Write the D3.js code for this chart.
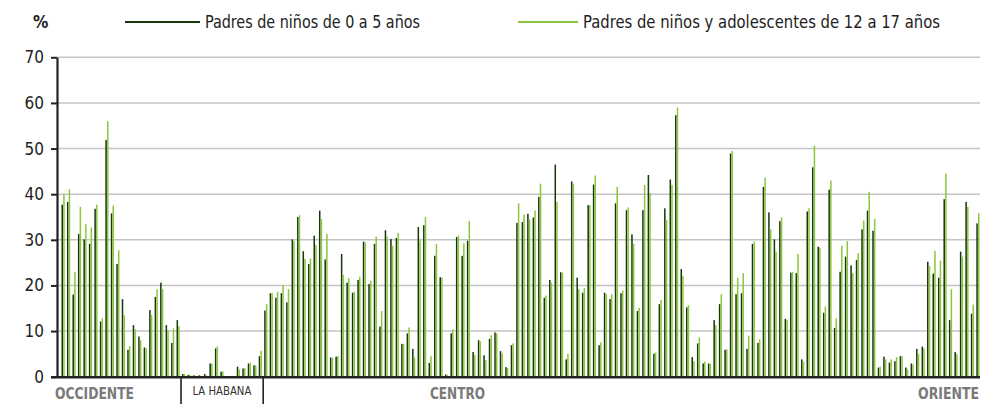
<!DOCTYPE html>
<html>
<head>
<meta charset="utf-8">
<script src="https://cdn.jsdelivr.net/npm/d3@7"></script>
<style>
  body { margin: 0; background: #fff; }
  svg { display: block; }
  text { font-family: "Liberation Sans Narrow", "DejaVu Sans Condensed", sans-serif; }
</style>
</head>
<body>
<div id="canvas"></div>
<script>
// series names
var seriesNames = ["Padres de niños de 0 a 5 años", "Padres de niños y adolescentes de 12 a 17 años"];

// regions along the x axis and how many municipios each has
var regionNames = ["OCCIDENTE", "LA HABANA", "CENTRO", "ORIENTE"];
var regionSizes = [22, 15, 71, 60];

// % values, one per municipio
var padres0a5 = [
  37.7, 38.3, 18.0, 31.3, 30.1, 29.1, 36.8, 12.1, 51.9, 35.8,
  24.7, 17.0, 5.9, 11.3, 8.8, 6.4, 14.6, 17.5, 20.6, 11.3,
  7.4, 12.4,
  0.6, 0.4, 0.3, 0.3, 0.6, 2.9, 6.2, 1.1, 0, 0, 2.2, 1.8, 2.9, 2.5, 4.5,
  14.5, 18.3, 17.3, 18.3, 16.3, 30.1, 35.0, 27.5, 24.7, 30.9,
  36.4, 25.7, 4.2, 4.4, 26.9, 20.6, 18.4, 21.2, 29.6, 20.3,
  29.1, 11.0, 32.1, 30.2, 30.4, 7.2, 9.5, 6.1, 32.8, 33.2,
  3.0, 26.5, 21.8, 0.5, 9.5, 30.6, 26.5, 29.8, 5.4, 8.0,
  4.7, 8.3, 9.7, 5.6, 2.1, 6.9, 33.7, 33.9, 35.7, 34.9,
  39.4, 17.3, 21.2, 46.5, 22.9, 3.8, 42.8, 21.7, 18.4, 37.6,
  42.1, 6.9, 18.4, 17.0, 38.0, 18.3, 36.5, 31.2, 14.4, 36.5,
  44.2, 5.0, 15.9, 36.9, 43.2, 57.3, 23.6, 15.2, 4.3, 7.3,
  2.9, 2.9, 12.4, 15.9, 5.9, 48.9, 18.1, 18.3, 6.1, 29.1,
  7.4, 41.6, 36.0, 30.1, 34.1, 12.7, 22.8, 22.7, 3.8, 36.2,
  45.9, 28.5, 14.0, 41.0, 10.7, 23.0, 26.3, 24.4, 25.6, 32.3,
  36.4, 32.0, 2.0, 4.4, 3.1, 3.4, 4.5, 2.0, 2.9, 6.1,
  6.6, 25.2, 22.6, 21.7, 38.9, 12.4, 5.4, 27.4, 38.3, 13.8,
  33.6
];
var padres12a17 = [
  40.0, 41.1, 23.0, 37.2, 33.4, 32.7, 37.7, 12.8, 56.0, 37.5,
  27.7, 13.5, 6.7, 10.4, 8.0, 6.2, 13.5, 19.2, 19.2, 10.2,
  10.6, 11.1,
  0.6, 0.4, 0.2, 0.2, 0.3, 2.9, 6.6, 1.2, 0, 0, 1.6, 1.9, 3.1, 2.5, 5.7,
  15.9, 18.3, 18.6, 20.1, 19.2, 29.7, 35.4, 25.8, 25.9, 28.9,
  34.6, 31.3, 4.2, 4.5, 22.3, 21.6, 18.6, 21.9, 29.4, 21.0,
  30.7, 14.4, 30.7, 28.7, 31.5, 7.2, 10.8, 4.2, 29.9, 35.0,
  4.5, 29.1, 21.7, 0.4, 10.4, 30.9, 29.2, 34.1, 4.8, 7.8,
  3.6, 9.1, 9.5, 5.1, 1.9, 7.3, 38.0, 35.5, 34.5, 36.4,
  42.3, 17.8, 20.6, 38.3, 22.8, 5.0, 42.3, 19.2, 19.4, 37.6,
  44.1, 7.5, 18.1, 18.1, 41.6, 18.9, 37.1, 29.1, 15.1, 42.0,
  40.2, 5.3, 16.8, 34.3, 42.0, 59.0, 22.1, 15.7, 3.4, 8.6,
  3.3, 2.8, 11.3, 18.1, 6.0, 49.5, 21.7, 22.7, 9.0, 29.6,
  8.2, 43.6, 32.3, 27.4, 34.9, 12.4, 23.0, 26.9, 3.3, 36.9,
  50.6, 28.3, 15.4, 43.0, 12.8, 28.7, 29.7, 22.7, 27.1, 34.2,
  40.5, 34.6, 2.2, 3.8, 3.8, 4.3, 4.5, 1.6, 2.7, 5.0,
  6.2, 24.3, 27.6, 25.4, 44.5, 19.2, 5.0, 26.3, 37.2, 15.8,
  35.8
];

var yTicks = [0, 10, 20, 30, 40, 50, 60, 70];

var width = 998, height = 404;
var colors = ["#17380b", "#8dc63f"];

var svg = d3.select("#canvas").append("svg")
  .attr("width", width)
  .attr("height", height);

var idx = d3.range(padres0a5.length);
var x = d3.scaleBand().domain(idx).range([60.3, 980.6]).padding(0);
var x1 = d3.scaleBand().domain([0, 1]).range([1.2, 4.4]).paddingInner(0.1);
var y = d3.scaleLinear().domain([0, 70]).range([376.7, 57.3]);

var axisLeftX = 57;

// grid
svg.append("g")
  .selectAll("line")
  .data(yTicks.slice(1))
  .enter().append("line")
  .attr("x1", axisLeftX).attr("x2", 980)
  .attr("y1", d => y(d)).attr("y2", d => y(d))
  .attr("stroke", "#c4c4c4")
  .attr("stroke-width", 1.5);

// bars
var rows = idx.map(i => [padres0a5[i], padres12a17[i]]);
var groups = svg.append("g").selectAll("g")
  .data(rows)
  .enter().append("g")
  .attr("transform", (d, i) => "translate(" + x(i) + ",0)");

groups.selectAll("rect")
  .data(d => d)
  .enter().append("rect")
  .attr("x", (d, k) => x1(k))
  .attr("width", x1.bandwidth())
  .attr("y", d => y(d))
  .attr("height", d => y(0) - y(d))
  .attr("fill", (d, k) => colors[k]);

// y axis
var yAxis = svg.append("g")
  .attr("transform", "translate(" + axisLeftX + ",0)")
  .call(d3.axisLeft(y).tickValues(yTicks).tickSize(6).tickPadding(7).tickSizeOuter(0));
yAxis.select(".domain").attr("stroke", "#222").attr("stroke-width", 2.2);
yAxis.selectAll(".tick line").attr("stroke", "#222").attr("stroke-width", 2);
yAxis.selectAll(".tick text")
  .attr("fill", "#222")
  .style("font-size", "17px");

// x axis baseline
svg.append("line")
  .attr("x1", 51).attr("x2", 980)
  .attr("y1", y(0) + 0.6).attr("y2", y(0) + 0.6)
  .attr("stroke", "#222").attr("stroke-width", 2.6);

// region separators and labels
var starts = [0];
regionSizes.forEach((s, i) => starts.push(starts[i] + s));
var bandStart = i => x(i) === undefined ? x.range()[1] : x(i);

[1, 2].forEach(function (r) {
  var sx = bandStart(starts[r]) + 0.2;
  svg.append("line")
    .attr("x1", sx).attr("x2", sx)
    .attr("y1", y(0)).attr("y2", height)
    .attr("stroke", "#222").attr("stroke-width", 1.6);
});

svg.append("text")
  .attr("x", 55).attr("y", 399)
  .attr("fill", "#7a7a7a")
  .style("font-size", "15px").style("font-weight", "bold")
  .attr("textLength", 79).attr("lengthAdjust", "spacingAndGlyphs")
  .text(regionNames[0]);

svg.append("text")
  .attr("x", (bandStart(starts[1]) + bandStart(starts[2])) / 2).attr("y", 395)
  .attr("text-anchor", "middle")
  .attr("fill", "#333")
  .style("font-size", "12px")
  .attr("textLength", 59).attr("lengthAdjust", "spacingAndGlyphs")
  .text(regionNames[1]);

svg.append("text")
  .attr("x", (bandStart(starts[2]) + bandStart(starts[3])) / 2).attr("y", 399)
  .attr("text-anchor", "middle")
  .attr("fill", "#7a7a7a")
  .style("font-size", "15px").style("font-weight", "bold")
  .attr("textLength", 55).attr("lengthAdjust", "spacingAndGlyphs")
  .text(regionNames[2]);

svg.append("text")
  .attr("x", 979).attr("y", 399)
  .attr("text-anchor", "end")
  .attr("fill", "#7a7a7a")
  .style("font-size", "15px").style("font-weight", "bold")
  .attr("textLength", 61).attr("lengthAdjust", "spacingAndGlyphs")
  .text(regionNames[3]);

// % label
svg.append("text")
  .attr("x", 33).attr("y", 28)
  .attr("fill", "#222")
  .style("font-size", "17px").style("font-weight", "bold")
  .text("%");

// legend
var legendPos = [{ lx: 125, tx: 205, w: 215 }, { lx: 518, tx: 583, w: 357 }];
seriesNames.forEach(function (name, i) {
  var p = legendPos[i];
  svg.append("line")
    .attr("x1", p.lx).attr("x2", p.tx - 5)
    .attr("y1", 22).attr("y2", 22)
    .attr("stroke", colors[i]).attr("stroke-width", 2);
  svg.append("text")
    .attr("x", p.tx).attr("y", 28)
    .attr("fill", "#222")
    .style("font-size", "17px")
    .attr("textLength", p.w).attr("lengthAdjust", "spacingAndGlyphs")
    .text(name);
});
</script>
</body>
</html>
